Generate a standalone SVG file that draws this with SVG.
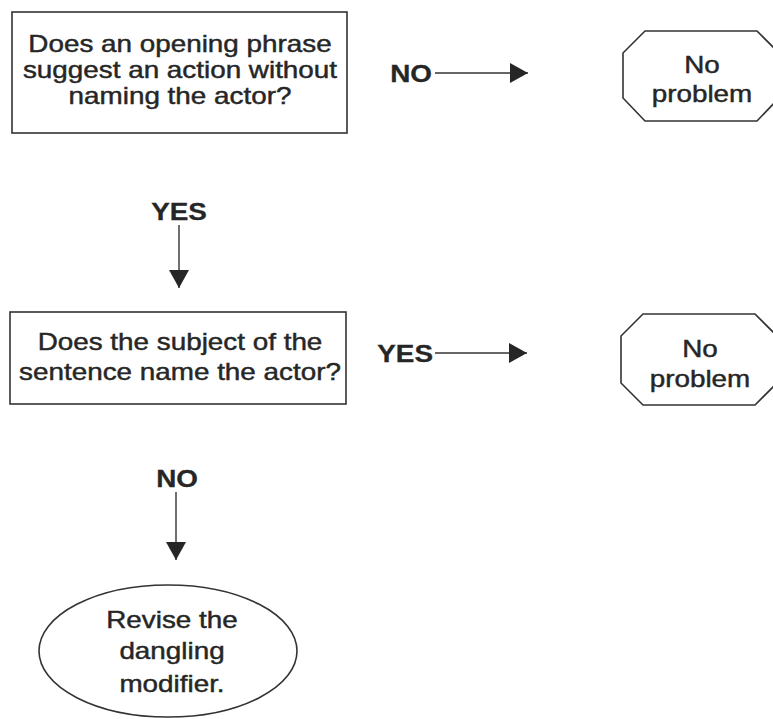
<svg xmlns="http://www.w3.org/2000/svg" width="773" height="719" viewBox="0 0 773 719">
<defs>
<style>
.t{font-family:"Liberation Sans",Arial,Helvetica,sans-serif;font-size:24px;fill:#262626;stroke:#262626;stroke-width:0.45}
.b{font-weight:bold;stroke-width:0.3}
.shape{fill:#fff;stroke:#333;stroke-width:1.6}
.conn{stroke:#333;stroke-width:1.4;fill:none}
</style>
<marker id="ah" markerUnits="userSpaceOnUse" markerWidth="18" markerHeight="20" refX="18" refY="10" orient="auto">
<path d="M0,0 L18,10 L0,20 Z" fill="#262626"/>
</marker>
</defs>
<rect width="773" height="719" fill="#fff"/>
<g id="q1">
<rect class="shape" x="12" y="12" width="335" height="121"/>
<text class="t" text-anchor="middle" transform="translate(180,52) scale(1.16,1)">Does an opening phrase</text>
<text class="t" text-anchor="middle" transform="translate(180,78) scale(1.16,1)">suggest an action without</text>
<text class="t" text-anchor="middle" transform="translate(180,104) scale(1.16,1)">naming the actor?</text>
</g>
<g id="np1">
<polygon class="shape" points="645,31 757,31 779,53 779,98 757,121 645,121 623,98 623,53"/>
<text class="t" text-anchor="middle" transform="translate(702,73) scale(1.16,1)">No</text>
<text class="t" text-anchor="middle" transform="translate(702,102) scale(1.16,1)">problem</text>
</g>
<g id="q2">
<rect class="shape" x="10" y="312" width="336" height="92"/>
<text class="t" text-anchor="middle" transform="translate(180,350) scale(1.16,1)">Does the subject of the</text>
<text class="t" text-anchor="middle" transform="translate(180,380) scale(1.16,1)">sentence name the actor?</text>
</g>
<g id="np2">
<polygon class="shape" points="643,314 755,314 777,336 777,383 755,405 643,405 621,383 621,336"/>
<text class="t" text-anchor="middle" transform="translate(700,357) scale(1.16,1)">No</text>
<text class="t" text-anchor="middle" transform="translate(700,387) scale(1.16,1)">problem</text>
</g>
<g id="revise">
<ellipse class="shape" cx="168" cy="651" rx="129" ry="66"/>
<text class="t" text-anchor="middle" transform="translate(172,628) scale(1.16,1)">Revise the</text>
<text class="t" text-anchor="middle" transform="translate(172,659) scale(1.16,1)">dangling</text>
<text class="t" text-anchor="middle" transform="translate(172,692) scale(1.16,1)">modifier.</text>
</g>
<g id="connectors">
<line class="conn" x1="435" y1="73" x2="528" y2="73" marker-end="url(#ah)"/>
<line class="conn" x1="435" y1="353" x2="527" y2="353" marker-end="url(#ah)"/>
<line class="conn" x1="179" y1="225" x2="179" y2="288" marker-end="url(#ah)"/>
<line class="conn" x1="176" y1="492" x2="176" y2="560" marker-end="url(#ah)"/>
<text class="t b" text-anchor="end" transform="translate(432,82) scale(1.16,1)">NO</text>
<text class="t b" text-anchor="end" transform="translate(433,362) scale(1.16,1)">YES</text>
<text class="t b" text-anchor="middle" transform="translate(179,220) scale(1.16,1)">YES</text>
<text class="t b" text-anchor="middle" transform="translate(177,487) scale(1.16,1)">NO</text>
</g>
</svg>
